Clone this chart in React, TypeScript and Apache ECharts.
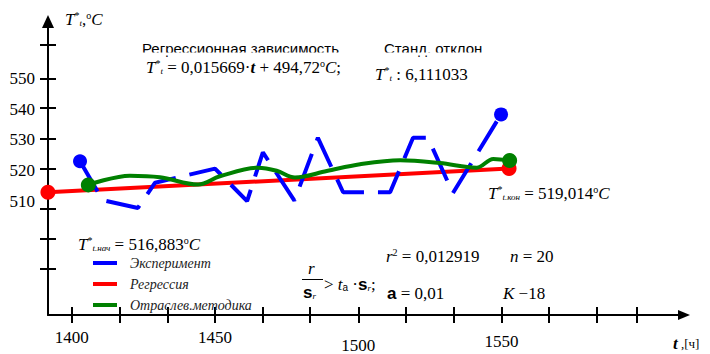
import React, { useEffect, useRef } from "react";
import * as echarts from "echarts";

// ---- axis ticks / labels ----
const xTickValues = [1400, 1416.6, 1433.4, 1450, 1466.7, 1483.2, 1500, 1516.7, 1533.2, 1550, 1566.5, 1583.2, 1597.2];
const xLabelValues = [1400, 1450, 1500, 1550];
const yTickValues = [488.0, 497.8, 507.8, 520.5, 530.5, 540.5, 550, 561.1];
const yLabelValues = [510, 520, 530, 540, 550];

// ---- Эксперимент ----
const expTime = [1402.9, 1410.8, 1423.1, 1429.1, 1450.0, 1461.2, 1466.7, 1477.7, 1485.9, 1494.7, 1511.1, 1519.1, 1524.3, 1533.0, 1549.8];
const expTemp = [523.1, 510.4, 507.9, 516.1, 520.7, 510.1, 526.0, 510.3, 530.7, 513.0, 513.0, 530.7, 530.7, 512.7, 538.3];

// ---- Регрессия ----
const regTime = [1391.7, 1552.6];
const regTemp = [513.0, 520.7];

// ---- Отраслев.методика ----
const indTime = [1405.8, 1420.3, 1430.8, 1444.1, 1451.7, 1465.0, 1471.5, 1477.9, 1489.0, 1500.6, 1514.6, 1528.5, 1541.3, 1547.1, 1552.8];
const indTemp = [515.4, 518.4, 517.9, 515.5, 518.2, 521.0, 520.0, 517.8, 519.9, 522.1, 523.4, 522.5, 521.0, 523.8, 523.3];

const seriesNames = ["Эксперимент", "Регрессия", "Отраслев.методика"];

const X_MIN = 1391.73;
const X_MAX = 1613.64;
const Y_MIN = 473.1;
const Y_MAX = 568.51;

const serif = "Liberation Serif";
const sans = "Liberation Sans";

const rich: any = {
  T: { fontFamily: serif, fontStyle: "italic", fontSize: 17, color: "#000" },
  n: { fontFamily: serif, fontSize: 17, color: "#000" },
  sp: { fontFamily: serif, fontSize: 10, color: "#000", verticalAlign: "top" },
  sb: { fontFamily: serif, fontStyle: "italic", fontSize: 9, color: "#000", verticalAlign: "bottom" },
  b: { fontFamily: sans, fontWeight: "bold", fontSize: 17, color: "#000" },
  sa: { fontFamily: sans, fontSize: 10, color: "#000", verticalAlign: "bottom" },
  tb: { fontFamily: serif, fontStyle: "italic", fontWeight: "bold", fontSize: 17, color: "#000" },
  s13: { fontFamily: serif, fontSize: 13, color: "#000" },
};

function rt(x: number, y: number, text: string) {
  return {
    type: "text",
    x,
    y,
    z: 5,
    style: { text, rich, align: "left", verticalAlign: "middle", fontFamily: serif, fontSize: 17 },
  };
}

const pair = (a: number[], b: number[]) => a.map((v, i) => [v, b[i]]);

export default function App() {
  const ref = useRef<HTMLDivElement>(null);
  useEffect(() => {
    const chart = echarts.init(ref.current!, null, { renderer: "svg" });
    const axisCommon = {
      type: "value",
      splitLine: { show: false },
    };
    const option: any = {
      animation: false,
      backgroundColor: "#fff",
      grid: { left: 48, right: 26, top: 21.5, bottom: 31, containLabel: false },
      legend: {
        data: seriesNames,
        orient: "vertical",
        left: 88,
        top: 251,
        icon: "rect",
        itemWidth: 24,
        itemHeight: 4,
        itemGap: 7,
        itemStyle: { borderWidth: 0 },
        textStyle: { fontFamily: serif, fontStyle: "italic", fontSize: 14, color: "#222", padding: [0, 0, 0, 8] },
      },
      xAxis: [
        {
          ...axisCommon,
          min: X_MIN,
          max: X_MAX,
          position: "bottom",
          axisLine: { show: true, onZero: false, lineStyle: { color: "#000", width: 2 }, symbol: ["none", "triangle"], symbolSize: [10, 12] },
          axisTick: { show: true, inside: false, length: 8, lineStyle: { color: "#000", width: 2 }, customValues: xTickValues },
          axisLabel: {
            show: true,
            customValues: xLabelValues,
            margin: 14,
            fontFamily: serif,
            fontSize: 17,
            color: "#000",
            formatter: (v: number) => (v === 1500 ? "{c|" + v + "}" : v === 1550 ? "{d|" + v + "}" : "{a|" + v + "}"),
            rich: {
              a: { fontFamily: serif, fontSize: 17, color: "#000" },
              c: { fontFamily: serif, fontSize: 17, color: "#000", padding: [8, 0, 0, 0] },
              d: { fontFamily: serif, fontSize: 17, color: "#000", padding: [4, 0, 0, 0] },
            },
          },
        },
        {
          ...axisCommon,
          min: X_MIN,
          max: X_MAX,
          position: "bottom",
          axisLine: { show: false, onZero: false },
          axisTick: { show: true, inside: true, length: 8, lineStyle: { color: "#000", width: 2 }, customValues: xTickValues },
          axisLabel: { show: false },
        },
      ],
      yAxis: [
        {
          ...axisCommon,
          min: Y_MIN,
          max: Y_MAX,
          position: "left",
          axisLine: { show: true, onZero: false, lineStyle: { color: "#000", width: 2 }, symbol: ["none", "triangle"], symbolSize: [12, 13] },
          axisTick: { show: true, inside: false, length: 8, lineStyle: { color: "#000", width: 2 }, customValues: yTickValues },
          axisLabel: { show: true, customValues: yLabelValues, margin: 13, fontFamily: serif, fontSize: 17, color: "#000" },
        },
        {
          ...axisCommon,
          min: Y_MIN,
          max: Y_MAX,
          position: "left",
          axisLine: { show: false, onZero: false },
          axisTick: { show: true, inside: true, length: 8, lineStyle: { color: "#000", width: 2 }, customValues: yTickValues },
          axisLabel: { show: false },
        },
      ],
      series: [
        {
          name: seriesNames[1],
          type: "line",
          data: pair(regTime, regTemp),
          symbol: "circle",
          symbolSize: 15,
          showAllSymbol: true,
          lineStyle: { color: "#ff0000", width: 4 },
          itemStyle: { color: "#ff0000" },
          z: 2,
        },
        {
          name: seriesNames[0],
          type: "line",
          data: pair(expTime, expTemp),
          symbol: "circle",
          symbolSize: (_v: any, p: any) => (p.dataIndex === 0 || p.dataIndex === expTime.length - 1 ? 14 : 0),
          showAllSymbol: true,
          lineStyle: { color: "#0000ff", width: 4, type: [35, 14], cap: "butt" },
          itemStyle: { color: "#0000ff" },
          z: 3,
        },
        {
          name: seriesNames[2],
          type: "line",
          data: pair(indTime, indTemp),
          smooth: 0.35,
          symbol: "circle",
          symbolSize: (_v: any, p: any) => (p.dataIndex === 0 || p.dataIndex === indTime.length - 1 ? 15 : 0),
          showAllSymbol: true,
          lineStyle: { color: "#008000", width: 4 },
          itemStyle: { color: "#008000" },
          z: 4,
        },
      ],
      graphic: [
        rt(65, 19, "{T|T}{sp|*}{sb|t}{n|,}{sp|o}{T|C}"),
        {
          type: "text",
          x: 142,
          y: 41,
          z: 5,
          style: { text: "Регрессионная зависимость", fontFamily: sans, fontSize: 15, fill: "#000", verticalAlign: "top" },
        },
        {
          type: "text",
          x: 384,
          y: 41,
          z: 5,
          style: { text: "Станд. отклон", fontFamily: sans, fontSize: 15, fill: "#000", verticalAlign: "top" },
        },
        { type: "rect", z: 10, shape: { x: 130, y: 52.5, width: 380, height: 3 }, style: { fill: "#fff" } },
        rt(146, 67, "{T|T}{sp|*}{sb|t}{n| = 0,015669·}{tb|t}{n| + 494,72}{sp|o}{T|C}{n|;}"),
        rt(375, 74, "{T|T}{sp|*}{sb|t}{n| : 6,111033}"),
        rt(488, 193, "{T|T}{sp|*}{sb|t.кон}{n| = 519,014}{sp|o}{T|C}"),
        rt(78, 244, "{T|T}{sp|*}{sb|t.нач}{n| = 516,883}{sp|o}{T|C}"),
        rt(308, 268, "{T|r}"),
        { type: "line", z: 5, shape: { x1: 302, y1: 279.5, x2: 323, y2: 279.5 }, style: { stroke: "#000", lineWidth: 1 } },
        rt(303, 292, "{b|s}{sb|r}"),
        rt(324, 284, "{n|> }{T|t}{sa|a}{n| ·}{b|s}{sb|r}{n|;}"),
        rt(386, 256, "{T|r}{sp|2}{n| = 0,012919}"),
        rt(510, 256, "{T|n}{n| = 20}"),
        rt(387, 293, "{b|a}{n| = 0,01}"),
        rt(503, 293, "{T|K}{n| −18}"),
        rt(673, 343, "{tb|t}{s13| ,[ч]}"),
      ],
    };
    chart.setOption(option);
    return () => chart.dispose();
  }, []);
  return (
    <div
      ref={ref}
      style={{ position: "absolute", left: 0, top: 0, width: 710, height: 354, background: "#fff" }}
    />
  );
}
